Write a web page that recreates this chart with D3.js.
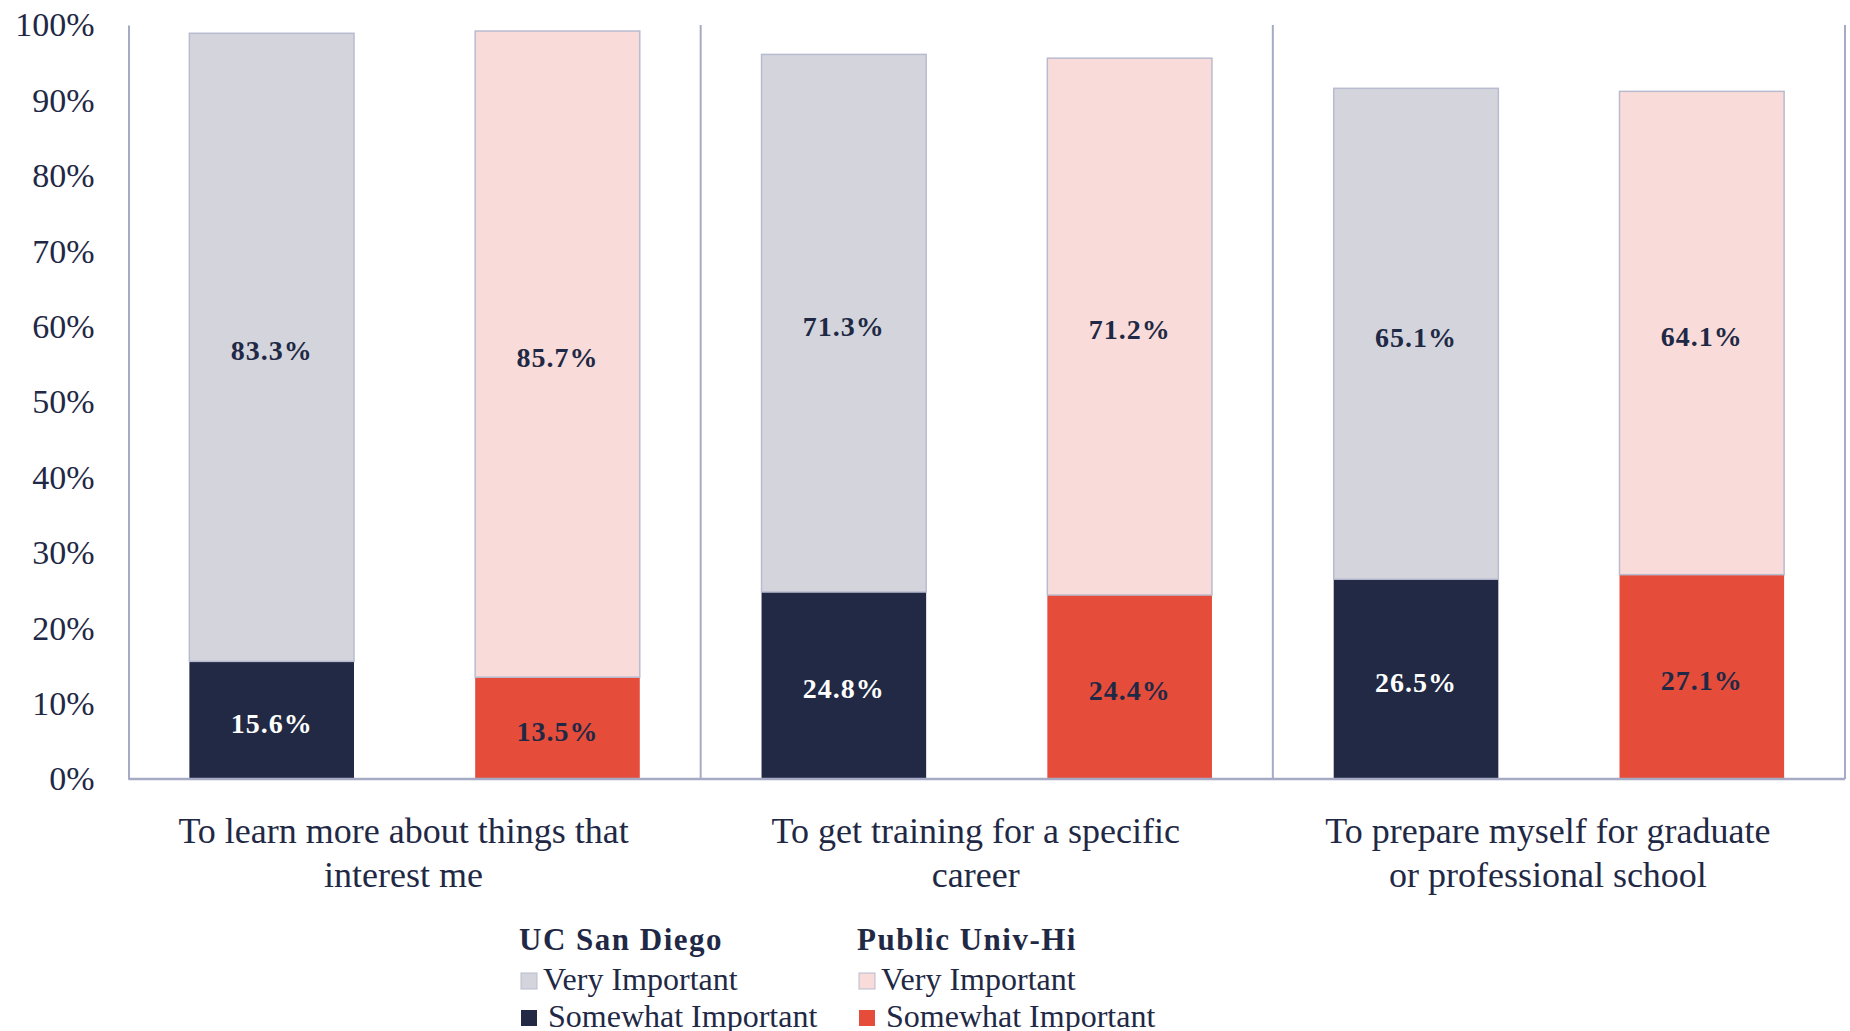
<!DOCTYPE html>
<html>
<head>
<meta charset="utf-8">
<script src="https://cdn.jsdelivr.net/npm/d3@7"></script>
<style>
body { margin: 0; background: #fff; }
text { font-family: "Liberation Serif", "DejaVu Serif", serif; fill: #1f2945; }
</style>
</head>
<body>
<div class="chart"></div>
<script>
// chart data
var categories = ["learn", "training", "prepare"];
var categoryLines = [
  ["To learn more about things that", "interest me"],
  ["To get training for a specific", "career"],
  ["To prepare myself for graduate", "or professional school"]
];
var groups = ["UC San Diego", "Public Univ-Hi"];
var ucsdSomewhat = [15.6, 24.8, 26.5];
var ucsdVery = [83.3, 71.3, 65.1];
var publicSomewhat = [13.5, 24.4, 27.1];
var publicVery = [85.7, 71.2, 64.1];
var yTicks = [0, 10, 20, 30, 40, 50, 60, 70, 80, 90, 100];
var legendItems = ["Very Important", "Somewhat Important"];

// colours
var colors = {
  "UC San Diego": { very: "#d4d5dc", somewhat: "#212944", label: "#ffffff" },
  "Public Univ-Hi": { very: "#f9dcd9", somewhat: "#e64c3a", label: "#1f2945" }
};
var lineColor = "#a6aac4";

//Width and height
var w = 1850;
var h = 1031;
var plotLeft = 128.5, plotRight = 1845, plotTop = 25, plotBottom = 779;

var svg = d3.select(".chart")
  .append("svg")
  .attr("width", w)
  .attr("height", h);

var x0 = d3.scaleBand()
  .domain(categories)
  .range([plotLeft, plotRight])
  .padding(0);

var x1 = d3.scaleBand()
  .domain(groups)
  .range([0, x0.bandwidth()])
  .paddingInner(0.424)
  .paddingOuter(0.213);

var y = d3.scaleLinear()
  .domain([0, 100])
  .range([plotBottom, plotTop]);

// build the stacked segments
var segs = [];
categories.forEach(function(c, i) {
  var vals = {
    "UC San Diego": [ucsdSomewhat[i], ucsdVery[i]],
    "Public Univ-Hi": [publicSomewhat[i], publicVery[i]]
  };
  groups.forEach(function(g) {
    var s = vals[g][0], v = vals[g][1];
    segs.push({ cat: c, group: g, lo: 0, hi: s, kind: "somewhat" });
    segs.push({ cat: c, group: g, lo: s, hi: s + v, kind: "very" });
  });
});

// bars
svg.selectAll("rect.seg")
  .data(segs)
  .enter()
  .append("rect")
  .attr("class", "seg")
  .attr("x", function(d) { return x0(d.cat) + x1(d.group); })
  .attr("y", function(d) { return y(d.hi); })
  .attr("width", x1.bandwidth())
  .attr("height", function(d) { return y(d.lo) - y(d.hi); })
  .attr("fill", function(d) { return colors[d.group][d.kind]; })
  .attr("stroke", function(d) { return d.kind == "very" ? "#b8bbd0" : "none"; })
  .attr("stroke-width", 1.5);

// value labels
svg.selectAll("text.val")
  .data(segs)
  .enter()
  .append("text")
  .attr("class", "val")
  .attr("x", function(d) { return x0(d.cat) + x1(d.group) + x1.bandwidth() / 2; })
  .attr("y", function(d) { return (y(d.lo) + y(d.hi)) / 2 + 3; })
  .attr("dy", "0.35em")
  .attr("text-anchor", "middle")
  .style("font-size", "28px")
  .style("font-weight", "bold")
  .style("letter-spacing", "1px")
  .style("fill", function(d) { return d.kind == "somewhat" ? colors[d.group].label : "#1f2945"; })
  .text(function(d) { return (d.hi - d.lo).toFixed(1) + "%"; });

// y axis
var yAxis = svg.append("g")
  .attr("transform", "translate(" + plotLeft + ",0)")
  .call(d3.axisLeft(y).tickValues(yTicks).tickSize(0).tickPadding(34)
    .tickFormat(function(d) { return d + "%"; }));
yAxis.select(".domain").attr("stroke", lineColor).attr("stroke-width", 2);
yAxis.selectAll("text")
  .style("font-size", "34px")
  .style("font-family", "'Liberation Serif', serif")
  .attr("fill", "#1f2945");

// category separators + right edge
svg.selectAll("line.sep")
  .data(categories.slice(1).map(function(c) { return x0(c); }).concat([plotRight]))
  .enter()
  .append("line")
  .attr("class", "sep")
  .attr("x1", function(d) { return d; })
  .attr("x2", function(d) { return d; })
  .attr("y1", plotTop)
  .attr("y2", plotBottom)
  .attr("stroke", lineColor)
  .attr("stroke-width", 2);

// baseline
svg.append("line")
  .attr("x1", plotLeft)
  .attr("x2", plotRight)
  .attr("y1", y(0))
  .attr("y2", y(0))
  .attr("stroke", lineColor)
  .attr("stroke-width", 2.5);

// category labels
var catLabel = svg.selectAll("text.cat")
  .data(categories)
  .enter()
  .append("text")
  .attr("class", "cat")
  .attr("text-anchor", "middle")
  .style("font-size", "36px");
catLabel.selectAll("tspan")
  .data(function(d, i) { return categoryLines[i].map(function(t) { return { t: t, c: d }; }); })
  .enter()
  .append("tspan")
  .attr("x", function(d) { return x0(d.c) + x0.bandwidth() / 2 - 11; })
  .attr("y", function(d, j) { return 843 + j * 44; })
  .text(function(d) { return d.t; });

// legend
var legendX = [519, 857];
var legend = svg.selectAll("g.legend")
  .data(groups)
  .enter()
  .append("g")
  .attr("class", "legend")
  .attr("transform", function(d, i) { return "translate(" + legendX[i] + ",0)"; });

legend.append("text")
  .attr("x", 0)
  .attr("y", 950)
  .style("font-size", "31px")
  .style("font-weight", "bold")
  .style("letter-spacing", "1.5px")
  .text(function(d) { return d; });

legendItems.forEach(function(item, k) {
  legend.append("rect")
    .attr("x", 2)
    .attr("y", 973 + k * 37)
    .attr("width", 16)
    .attr("height", 16)
    .attr("fill", function(d) { return colors[d][k == 0 ? "very" : "somewhat"]; })
    .attr("stroke", k == 0 ? "#b8bbd0" : "none");
  legend.append("text")
    .attr("x", k == 0 ? 24 : 29)
    .attr("y", 990 + k * 37)
    .style("font-size", "32px")
    .text(item);
});
</script>
</body>
</html>
